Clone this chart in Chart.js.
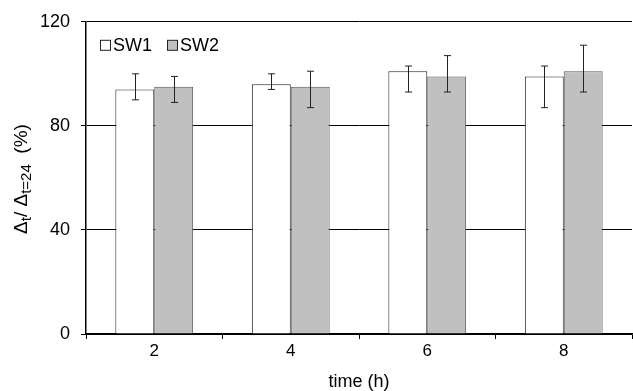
<!DOCTYPE html>
<html>
<head>
<meta charset="UTF-8">
<title>SW1 / SW2</title>
<script src="https://cdn.jsdelivr.net/npm/chart.js"></script>
<style>
  html, body { margin: 0; padding: 0; background: #fff; }
  #wrap { width: 633px; height: 391px; position: relative; }
</style>
</head>
<body>
<div id="wrap"><canvas id="chart"></canvas></div>
<script>
// data
const times = ['2', '4', '6', '8'];
const sw1 = [94, 96, 101, 99];
const sw1High = [100, 100, 103, 103];
const sw1Low = [90, 94, 93, 87];
const sw2 = [95, 95, 99, 101];
const sw2High = [99, 101, 107, 111];
const sw2Low = [89, 87, 93, 93];
const yTicks = [0, 40, 80, 120];

const FONT = 'Liberation Sans, Arial, sans-serif';

// error bars drawn on top of each bar
const errorBars = {
  id: 'errorBars',
  afterDatasetsDraw(chart) {
    const ctx = chart.ctx;
    const y = chart.scales.y;
    ctx.save();
    ctx.strokeStyle = '#222';
    ctx.lineWidth = 1;
    chart.data.datasets.forEach((ds, di) => {
      const meta = chart.getDatasetMeta(di);
      meta.data.forEach((bar, i) => {
        const x = Math.round(bar.x) + 0.5;
        const top = y.getPixelForValue(ds.errHigh[i]);
        const bot = y.getPixelForValue(ds.errLow[i]);
        ctx.beginPath();
        ctx.moveTo(x, top); ctx.lineTo(x, bot);
        ctx.moveTo(x - 3.5, top); ctx.lineTo(x + 3.5, top);
        ctx.moveTo(x - 3.5, bot); ctx.lineTo(x + 3.5, bot);
        ctx.stroke();
      });
    });
    ctx.restore();
  }
};

// legend inside the plot, top left
const innerLegend = {
  id: 'innerLegend',
  afterDraw(chart) {
    const ctx = chart.ctx;
    const area = chart.chartArea;
    let x = area.left + 14;
    const yMid = area.top + 23;
    ctx.save();
    ctx.font = '18px ' + FONT;
    ctx.textBaseline = 'middle';
    chart.data.datasets.forEach(ds => {
      ctx.fillStyle = ds.backgroundColor;
      ctx.fillRect(x + 0.5, yMid - 4.5, 10, 10);
      ctx.strokeStyle = '#222';
      ctx.lineWidth = 1;
      ctx.strokeRect(x + 0.5, yMid - 4.5, 10, 10);
      ctx.fillStyle = '#000';
      ctx.fillText(ds.label, x + 13, yMid + 1);
      x += 13 + ctx.measureText(ds.label).width + 15;
    });
    ctx.restore();
  }
};

// rotated y title with subscripts
const yTitle = {
  id: 'yTitle',
  afterDraw(chart) {
    const ctx = chart.ctx;
    const parts = [
      ['\u0394', 19, 0], ['t', 15, 4], ['/ ', 19, 0],
      ['\u0394', 19, 0], ['t=24', 15, 4], ['  (%)', 19, 0]
    ];
    ctx.save();
    let total = 0;
    parts.forEach(p => { ctx.font = p[1] + 'px ' + FONT; total += ctx.measureText(p[0]).width; });
    ctx.translate(27, 179);
    ctx.rotate(-Math.PI / 2);
    ctx.fillStyle = '#000';
    ctx.textBaseline = 'alphabetic';
    let x = -total / 2;
    parts.forEach(p => {
      ctx.font = p[1] + 'px ' + FONT;
      ctx.fillText(p[0], x, p[2]);
      x += ctx.measureText(p[0]).width;
    });
    ctx.restore();
  }
};

new Chart(document.getElementById('chart'), {
  type: 'bar',
  data: {
    labels: times,
    datasets: [
      {
        label: 'SW1', data: sw1, errHigh: sw1High, errLow: sw1Low,
        backgroundColor: '#ffffff', borderColor: '#222', borderWidth: 1,
        categoryPercentage: 0.57, barPercentage: 1
      },
      {
        label: 'SW2', data: sw2, errHigh: sw2High, errLow: sw2Low,
        backgroundColor: '#c0c0c0', borderColor: '#555', borderWidth: 1,
        categoryPercentage: 0.57, barPercentage: 1
      }
    ]
  },
  options: {
    responsive: true,
    maintainAspectRatio: false,
    animation: false,
    layout: { padding: { top: 20, right: 1, left: 0, bottom: 0 } },
    plugins: { legend: { display: false }, tooltip: { enabled: false } },
    scales: {
      x: {
        grid: { offset: true, drawOnChartArea: false, drawTicks: true, tickLength: 5, color: '#000' },
        border: { display: true, color: '#000', width: 1.5 },
        ticks: { color: '#000', font: { family: FONT, size: 17 }, padding: 2 },
        title: { display: true, text: 'time (h)', color: '#000', font: { family: FONT, size: 18 }, padding: { top: 0, bottom: -2 } },
        afterFit(s) { s.height = 57; }
      },
      y: {
        min: 0, max: 120,
        afterBuildTicks(s) { s.ticks = yTicks.map(v => ({ value: v })); },
        grid: { color: '#000', lineWidth: 1, drawTicks: true, tickLength: 5 },
        border: { display: true, color: '#000', width: 1.5 },
        ticks: { color: '#000', font: { family: FONT, size: 18 }, padding: 11 },
        afterFit(s) { s.width = 86; }
      }
    }
  },
  plugins: [errorBars, innerLegend, yTitle]
});
</script>
</body>
</html>
